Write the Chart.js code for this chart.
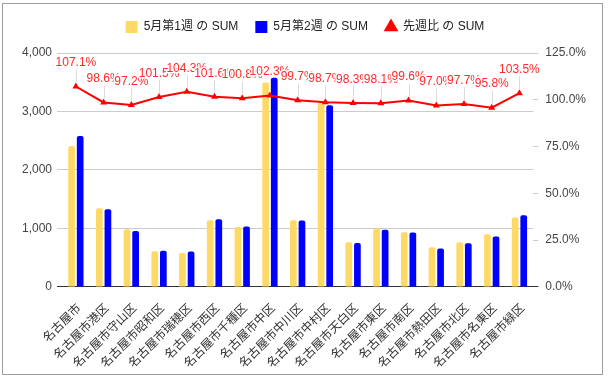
<!DOCTYPE html>
<html>
<head>
<meta charset="utf-8">
<script src="https://cdn.jsdelivr.net/npm/chart.js@4/dist/chart.umd.min.js"></script>
<style>
html,body{margin:0;padding:0;background:#fff;}
#wrap{position:relative;width:609px;height:383px;}
#frame{position:absolute;left:2px;top:3px;width:599px;height:370px;border:1px solid #9e9e9e;pointer-events:none;}
</style>
</head>
<body>
<div id="wrap"><canvas id="c" width="609" height="383"></canvas><div id="frame"></div></div>
<script>
const categories = ['名古屋市','名古屋市港区','名古屋市守山区','名古屋市昭和区','名古屋市瑞穂区','名古屋市西区','名古屋市千種区','名古屋市中区','名古屋市中川区','名古屋市中村区','名古屋市天白区','名古屋市東区','名古屋市南区','名古屋市熱田区','名古屋市北区','名古屋市名東区','名古屋市緑区'];
const week1 = [2410, 1346, 986, 609, 580, 1141, 1025, 3495, 1141, 3150, 763, 995, 935, 677, 763, 900, 1185];
const week2 = [2581, 1327, 958, 618, 605, 1159, 1033, 3575, 1137, 3108, 750, 976, 931, 657, 746, 862, 1226];
const ratio = [107.1, 98.6, 97.2, 101.5, 104.3, 101.6, 100.8, 102.3, 99.7, 98.7, 98.3, 98.1, 99.6, 97.0, 97.7, 95.8, 103.5];
const seriesNames = ['5月第1週 の SUM', '5月第2週 の SUM', '先週比 の SUM'];
const leftTicks = [0, 1000, 2000, 3000, 4000];
const rightTicks = [0, 25, 50, 75, 100, 125];

const FONT = "'Liberation Sans', Arial, 'Noto Sans CJK JP', sans-serif";

const annot = {
  id: 'annot',
  afterDatasetsDraw(chart) {
    const meta = chart.getDatasetMeta(2);
    const ctx = chart.ctx;
    ctx.save();
    ctx.font = '12px ' + FONT;
    ctx.textAlign = 'center';
    ctx.textBaseline = 'middle';
    meta.data.forEach((pt) => {
      ctx.strokeStyle = '#dcdcdc';
      ctx.lineWidth = 1;
      ctx.beginPath();
      ctx.moveTo(Math.round(pt.x) + 0.5, pt.y - 4);
      ctx.lineTo(Math.round(pt.x) + 0.5, pt.y - 17);
      ctx.stroke();
    });
    meta.data.forEach((pt, i) => {
      const txt = ratio[i].toFixed(1) + '%';
      ctx.lineWidth = 3;
      ctx.strokeStyle = '#fff';
      ctx.lineJoin = 'round';
      ctx.strokeText(txt, pt.x, pt.y - 23.5);
      ctx.fillStyle = '#ff2a2a';
      ctx.fillText(txt, pt.x, pt.y - 23.5);
    });
    ctx.restore();
  }
};

new Chart(document.getElementById('c'), {
  data: {
    labels: categories,
    datasets: [
      { type: 'bar', label: seriesNames[0], data: week1, backgroundColor: '#ffd966', yAxisID: 'y', order: 1,
        categoryPercentage: 0.62, barPercentage: 0.78, borderRadius: {topLeft: 2, topRight: 2}, borderSkipped: 'bottom', pointStyle: 'rect' },
      { type: 'bar', label: seriesNames[1], data: week2, backgroundColor: '#0000ff', yAxisID: 'y', order: 1,
        categoryPercentage: 0.62, barPercentage: 0.78, borderRadius: {topLeft: 2, topRight: 2}, borderSkipped: 'bottom', pointStyle: 'rect' },
      { type: 'line', label: seriesNames[2], data: ratio, borderColor: '#ff0000', backgroundColor: '#ff0000', yAxisID: 'y1', order: 0,
        borderWidth: 2, pointStyle: 'triangle', pointRadius: 4, pointBackgroundColor: '#ff0000', pointBorderColor: '#ff0000', pointBorderWidth: 0, tension: 0 }
    ]
  },
  options: {
    responsive: false,
    animation: false,
    devicePixelRatio: 1,
    layout: { padding: { top: 4, left: 17, right: 16, bottom: 5.5 } },
    plugins: {
      tooltip: { enabled: false },
      title: { display: false },
      subtitle: { display: true, text: '', position: 'top', weight: 500, padding: 0, font: { size: 10, lineHeight: 1 } },
      legend: {
        position: 'top',
        labels: {
          usePointStyle: true,
          boxWidth: 12, boxHeight: 12,
          padding: 17,
          color: '#222',
          font: { size: 12, family: FONT },
          sort: (a, b) => a.datasetIndex - b.datasetIndex
        }
      }
    },
    scales: {
      x: {
        offset: true,
        grid: { display: false },
        border: { display: false },
        ticks: { color: '#333', font: { size: 12, family: FONT }, minRotation: 45, maxRotation: 45, autoSkip: false, padding: 6.5, labelOffset: 3.5 }
      },
      y: {
        position: 'left',
        min: 0, max: 4000,
        afterBuildTicks: (s) => { s.ticks = leftTicks.map(v => ({ value: v })); },
        grid: { color: (c) => c.tick && c.tick.value === 0 ? '#333' : '#cccccc', lineWidth: 1, drawTicks: true, tickLength: 5 },
        border: { display: false },
        ticks: { color: '#444', font: { size: 12, family: FONT }, padding: 5, callback: (v) => v.toLocaleString('en-US') }
      },
      y1: {
        position: 'right',
        min: 0, max: 125,
        afterBuildTicks: (s) => { s.ticks = rightTicks.map(v => ({ value: v })); },
        grid: { drawOnChartArea: false, color: (c) => c.tick && c.tick.value === 0 ? '#333' : '#cccccc', drawTicks: true, tickLength: 5 },
        border: { display: false },
        ticks: { color: '#444', font: { size: 12, family: FONT }, padding: 7, callback: (v) => v.toFixed(1) + '%' }
      }
    }
  },
  plugins: [annot]
});
</script>
</body>
</html>
